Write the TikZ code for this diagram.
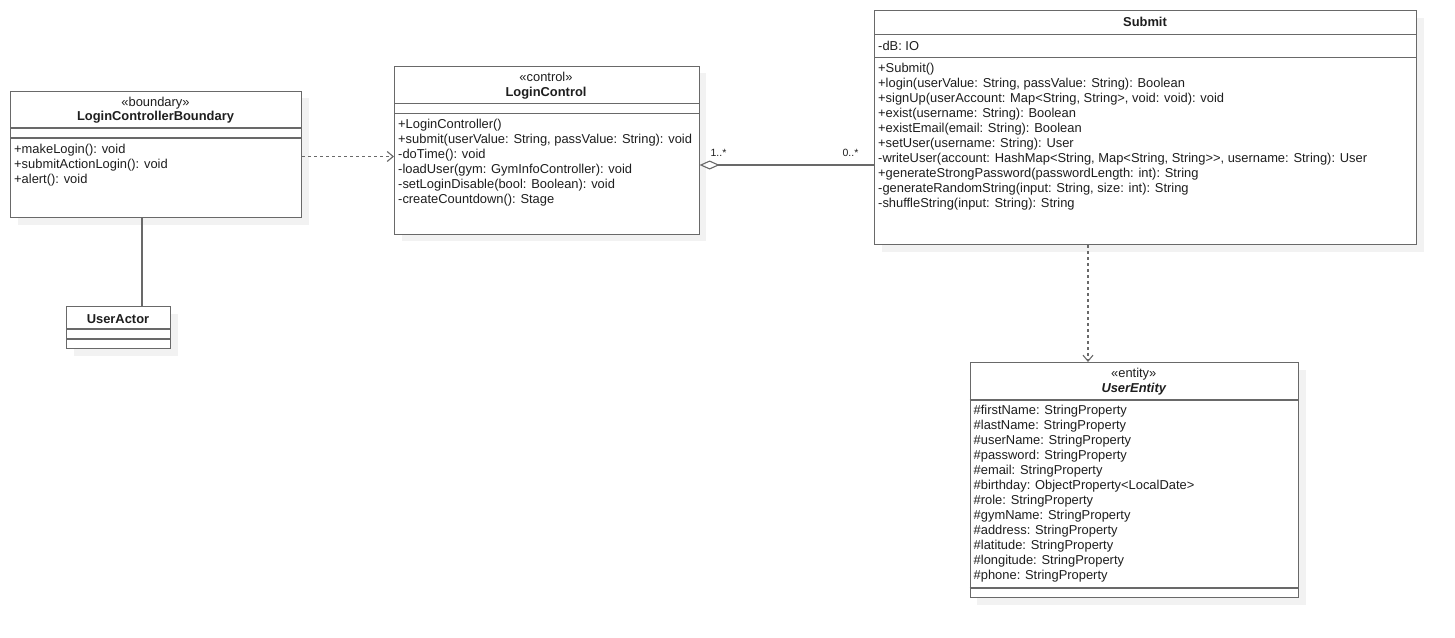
\documentclass[tikz,border=0pt]{standalone}
\usepackage{fontspec}
\setmainfont{Liberation Sans}
\usetikzlibrary{arrows.meta,shadows}
\definecolor{ln}{RGB}{105,105,105}
\definecolor{tx}{RGB}{30,30,30}
\definecolor{shd}{RGB}{242,242,242}
\begin{document}
\begin{tikzpicture}[x=1pt,y=-1pt,
  box/.style={draw=ln, line width=1.1pt, fill=white, inner sep=0pt, anchor=north west,
    general shadow={fill=shd, shadow xshift=7pt, shadow yshift=-7pt}},
  mem/.style={anchor=base west, inner sep=0pt, text=tx, font=\fontsize{12.9}{15}\selectfont},
  ctr/.style={anchor=base, inner sep=0pt, text=tx, font=\fontsize{12.9}{15}\selectfont},
  lbl/.style={anchor=base, inner sep=0pt, text=tx, font=\fontsize{10.5}{12}\selectfont},
  sep/.style={draw=ln, line width=1.1pt},
  assoc/.style={draw=ln, line width=1.1pt},
  dep/.style={draw=ln, line width=1.1pt, dash pattern=on 3pt off 3pt,
    -{Straight Barb[length=6pt,width=10pt]}},
]
\useasboundingbox (0,0) rectangle (1455,637);

% ---------- LoginControllerBoundary ----------
\node[box, minimum width=291pt, minimum height=126.5pt] (lcb) at (10,90.5) {};
\node[ctr] (lcbst) at (155.5,106) {«boundary»};
\node[ctr, font=\fontsize{12.9}{15}\selectfont\bfseries] (lcbnm) at (155.5,120) {LoginControllerBoundary};
\draw[sep] (10,128) -- (301,128);
\draw[sep] (10,138) -- (301,138);
\foreach \t [count=\i] in {{+makeLogin(): void},{+submitActionLogin(): void},{+alert(): void}}{
  \node[mem] (lcbm\i) at (14,{138+15*\i}) {\t};
}

% ---------- UserActor ----------
\node[box, minimum width=104pt, minimum height=42pt] (ua) at (66,306) {};
\node[ctr, font=\fontsize{12.9}{15}\selectfont\bfseries] (uanm) at (118,323.5) {UserActor};
\draw[sep] (66,329) -- (170,329);
\draw[sep] (66,339) -- (170,339);

% ---------- LoginControl ----------
\node[box, minimum width=304.5pt, minimum height=168pt] (lc) at (394,65.5) {};
\node[ctr] (lcst) at (546,81) {«control»};
\node[ctr, font=\fontsize{12.9}{15}\selectfont\bfseries] (lcnm) at (546,96) {LoginControl};
\draw[sep] (394,103.5) -- (698.5,103.5);
\draw[sep] (394,113.5) -- (698.5,113.5);
\foreach \t [count=\i] in {{+LoginController()},{+submit(userValue: String, passValue: String): void},{-doTime(): void},{-loadUser(gym: GymInfoController): void},{-setLoginDisable(bool: Boolean): void},{-createCountdown(): Stage}}{
  \node[mem] (lcm\i) at (398,{113.5+15*\i}) {\t};
}

% ---------- Submit ----------
\node[box, minimum width=542pt, minimum height=234pt] (sub) at (874,10) {};
\node[ctr, font=\fontsize{12.9}{15}\selectfont\bfseries] (subnm) at (1145,27) {Submit};
\draw[sep] (874,34.3) -- (1416,34.3);
\node[mem] (suba1) at (878,50) {-dB: IO};
\draw[sep] (874,57.7) -- (1416,57.7);
\foreach \t [count=\i] in {{+Submit()},{+login(userValue: String, passValue: String): Boolean},{+signUp(userAccount: Map<String, String>, void: void): void},{+exist(username: String): Boolean},{+existEmail(email: String): Boolean},{+setUser(username: String): User},{-writeUser(account: HashMap<String, Map<String, String>\kern0pt>, username: String): User},{+generateStrongPassword(passwordLength: int): String},{-generateRandomString(input: String, size: int): String},{-shuffleString(input: String): String}}{
  \node[mem] (subm\i) at (878,{57.5+15*\i}) {\t};
}

% ---------- UserEntity ----------
\node[box, minimum width=328.5pt, minimum height=235pt] (ue) at (969.5,362) {};
\node[ctr] (uest) at (1133.75,377.5) {«entity»};
\node[ctr, font=\fontsize{12.9}{15}\selectfont\bfseries\itshape] (uenm) at (1133.75,392.5) {UserEntity};
\draw[sep] (969.5,400) -- (1298,400);
\foreach \t [count=\i] in {{\#firstName: StringProperty},{\#lastName: StringProperty},{\#userName: StringProperty},{\#password: StringProperty},{\#email: StringProperty},{\#birthday: ObjectProperty<LocalDate>},{\#role: StringProperty},{\#gymName: StringProperty},{\#address: StringProperty},{\#latitude: StringProperty},{\#longitude: StringProperty},{\#phone: StringProperty}}{
  \node[mem] (uea\i) at (973.5,{399.5+15*\i}) {\t};
}
\draw[sep] (969.5,588) -- (1298,588);

% ---------- Connectors ----------
\draw[dep] (lcb.east |- 0,156.5) -- (lc.west |- 0,156.5);
\draw[assoc] (142,0 |- lcb.south) -- (142,0 |- ua.north);
\draw[assoc, {Diamond[open,length=20pt,width=9pt]}-] (lc.east |- 0,165) -- (sub.west |- 0,165);
\node[lbl] (m1) at (718.5,156) {1..*};
\node[lbl] (m2) at (850.5,156) {0..*};
\draw[dep] (1088,0 |- sub.south) -- (1088,0 |- ue.north);
\end{tikzpicture}
\end{document}
